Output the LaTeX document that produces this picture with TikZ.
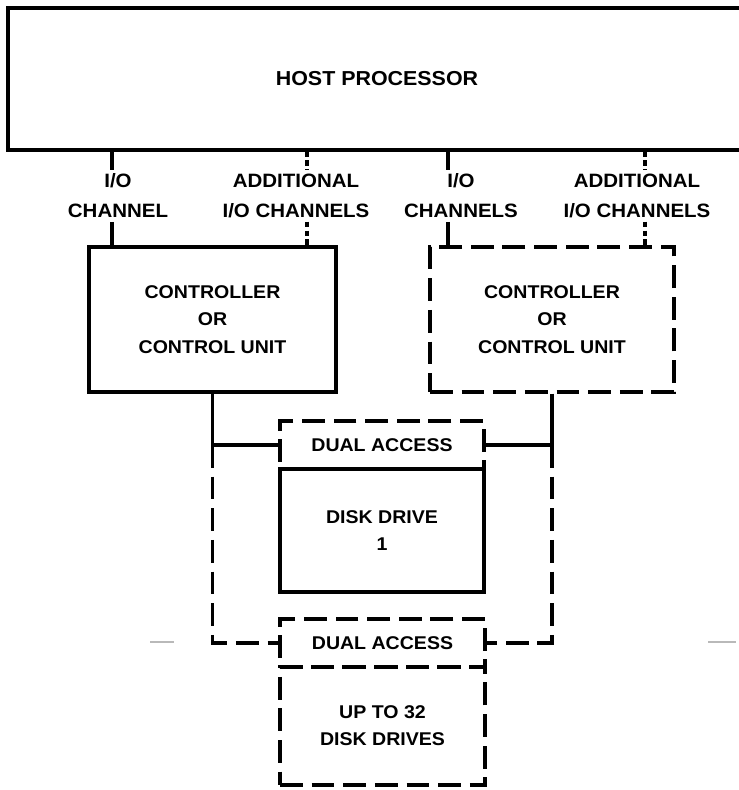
\documentclass[tikz,border=0pt]{standalone}
\usepackage{fontspec}
\setmainfont{Liberation Sans}[FakeStretch=1.06]
\usetikzlibrary{positioning}

\begin{document}
\begin{tikzpicture}[x=0.02cm, y=-0.02cm,
    box/.style={rectangle, draw, line width=1.8pt, inner sep=0pt, align=center, font=\fontsize{10.5}{15.5}\selectfont\bfseries},
    dashbox/.style={box, dash pattern=on 13pt off 5pt},
    chlabel/.style={inner sep=2pt, align=center, font=\fontsize{11}{17}\selectfont\bfseries},
    bus/.style={line width=1.8pt},
    busdash/.style={bus, dash pattern=on 13pt off 5pt},
    tap/.style={bus, dash pattern=on 3pt off 2pt},
    faint/.style={draw=gray!55, line width=0.9pt}
]
    \useasboundingbox (0,0) rectangle (739,790);

    \node[box, minimum width=14.76cm, minimum height=2.84cm, font=\fontsize{11.5}{15.5}\selectfont\bfseries] (host) at (377,79) {HOST PROCESSOR};

    \node[chlabel] (lblA) at (118,196) {I/O\\CHANNEL};
    \node[chlabel] (lblB) at (296,196) {ADDITIONAL\\I/O CHANNELS};
    \node[chlabel] (lblC) at (461,196) {I/O\\CHANNELS};
    \node[chlabel] (lblD) at (637,196) {ADDITIONAL\\I/O CHANNELS};

    \node[box, minimum width=4.94cm, minimum height=2.9cm] (ctrlA) at (212.5,319.5) {CONTROLLER\\OR\\CONTROL UNIT};
    \node[dashbox, minimum width=4.88cm, minimum height=2.9cm] (ctrlB) at (552,319.5) {CONTROLLER\\OR\\CONTROL UNIT};

    \node[dashbox, minimum width=4.08cm, minimum height=0.96cm] (dual1) at (382,445) {DUAL ACCESS};
    \node[box, minimum width=4.08cm, minimum height=2.46cm] (disk1) at (382,530.5) {DISK DRIVE\\1};
    \node[dashbox, minimum width=4.1cm, minimum height=0.96cm] (dual2) at (382.5,643) {DUAL ACCESS};
    \node[dashbox, minimum width=4.1cm, minimum height=2.36cm] (disk2) at (382.5,726) {UP TO 32\\DISK DRIVES};

    % channel taps
    \coordinate (chA) at (112,247);
    \coordinate (chB) at (307,247);
    \coordinate (chC) at (448,247);
    \coordinate (chD) at (645,247);
    \draw[bus] (chA |- host.south) -- (chA |- lblA.north);
    \draw[bus] (chA |- lblA.south) -- (chA);
    \draw[tap] (chB |- host.south) -- (chB |- lblB.north);
    \draw[tap] (chB |- lblB.south) -- (chB);
    \draw[bus] (chC |- host.south) -- (chC |- lblC.north);
    \draw[bus] (chC |- lblC.south) -- (chC);
    \draw[tap] (chD |- host.south) -- (chD |- lblD.north);
    \draw[tap] (chD |- lblD.south) -- (chD);

    % controller to drives
    \draw[bus] (ctrlA.south) |- (dual1.west);
    \draw[busdash] (ctrlA.south |- dual1.west) |- (dual2.west);
    \draw[bus] (ctrlB.south) |- (dual1.east);
    \draw[busdash] (ctrlB.south |- dual1.east) |- (dual2.east);

    % stray bus fragments
    \coordinate (stubL1) at (150,642);
    \coordinate (stubL2) at (174,642);
    \coordinate (stubR1) at (708,642);
    \coordinate (stubR2) at (736,642);
    \draw[faint] (stubL1) -- (stubL2);
    \draw[faint] (stubR1) -- (stubR2);
\end{tikzpicture}
\end{document}
